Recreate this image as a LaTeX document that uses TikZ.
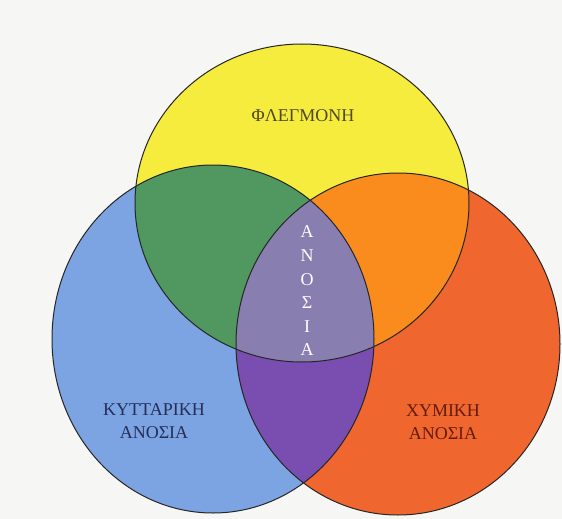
\documentclass[tikz,border=0pt]{standalone}
\usepackage{fontspec}
\setmainfont{Liberation Serif}
\usepackage{xcolor}
\usetikzlibrary{calc}
\definecolor{paper}{RGB}{246,246,244}
\definecolor{vyellow}{RGB}{246,236,62}
\definecolor{vblue}{RGB}{124,163,226}
\definecolor{vred}{RGB}{239,102,46}
\definecolor{vgreen}{RGB}{80,152,96}
\definecolor{vorange}{RGB}{249,140,28}
\definecolor{vpurple}{RGB}{122,78,176}
\definecolor{vcentre}{RGB}{136,126,176}
\definecolor{txtolive}{RGB}{80,72,40}
\definecolor{txtnavy}{RGB}{36,46,88}
\definecolor{txtbrown}{RGB}{100,28,14}
\tikzset{
  vennline/.style={draw=black!85, line width=1pt},
  vlabel/.style={font=\fontsize{18}{23}\selectfont, align=center, inner sep=0pt},
}

\begin{document}
\begin{tikzpicture}[x=1pt,y=-1pt]
\useasboundingbox (0,0) rectangle (562,519);
\fill[paper] (0,0) rectangle (562,519);
\clip (0,0) rectangle (562,519);
\def\yellowset{(302,203) ellipse [x radius=167, y radius=159]}
\def\blueset{(213,339) ellipse [x radius=161, y radius=174]}
\def\redset{(398,344) ellipse [x radius=162, y radius=171]}
\fill[vblue] \blueset;
\fill[vred] \redset;
\fill[vyellow] \yellowset;
\begin{scope}
  \clip \yellowset;
  \fill[vgreen] \blueset;
  \fill[vorange] \redset;
\end{scope}
\begin{scope}
  \clip \blueset;
  \fill[vpurple] \redset;
  \clip \yellowset;
  \fill[vcentre] \redset;
\end{scope}
\draw[vennline] \yellowset \blueset \redset;
\node[vlabel, text=txtolive] (fleg) at (303,116) {ΦΛΕΓΜΟΝΗ};
\node[vlabel, text=txtnavy] (kytt) at (154,421) {ΚΥΤΤΑΡΙΚΗ\\ΑΝΟΣΙΑ};
\node[vlabel, text=txtbrown] (xym) at (443,422) {ΧΥΜΙΚΗ\\ΑΝΟΣΙΑ};
\foreach \l [count=\i] in {Α,Ν,Ο,Σ,Ι,Α} {
 \node[vlabel, text=white] (anos\i) at (307,{232+23.6*(\i-1)}) {\l};
}
\end{tikzpicture}
\end{document}
